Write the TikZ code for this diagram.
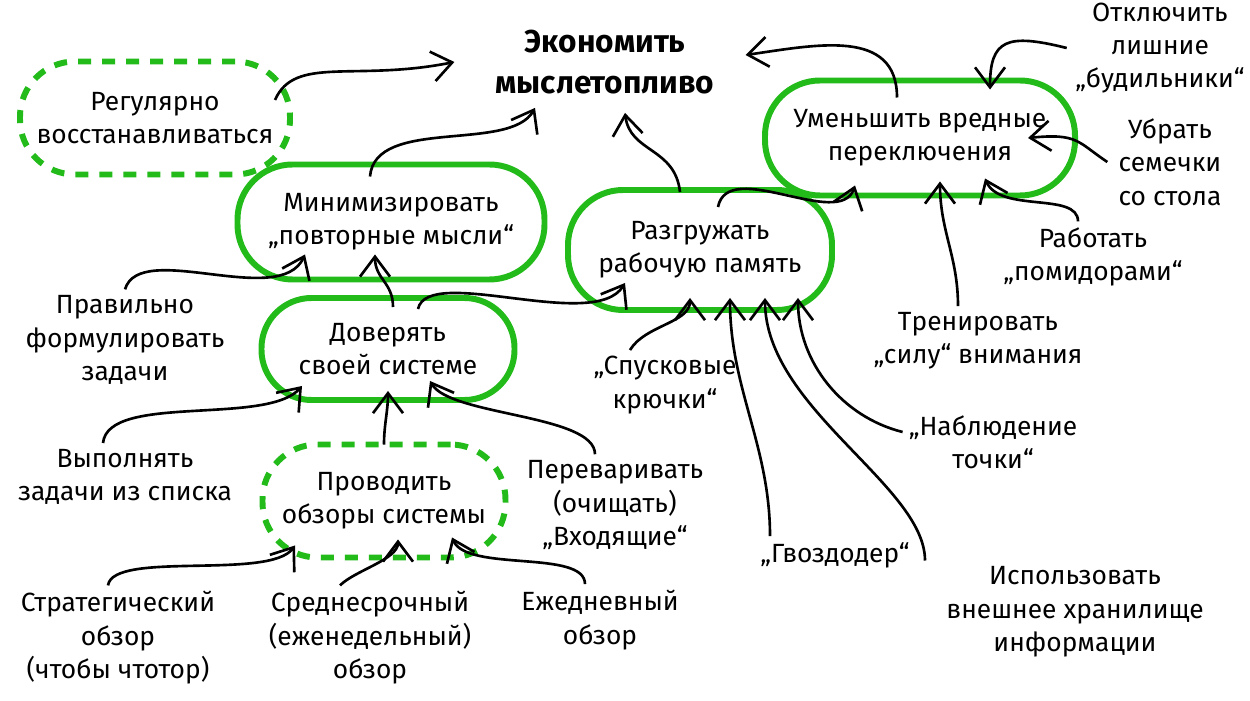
\documentclass[tikz,border=0pt]{standalone}
\usepackage{fontspec}
\setmainfont{Fira Sans}
\usetikzlibrary{shapes}
\usetikzlibrary{arrows.meta}
\definecolor{mygreen}{RGB}{34,187,26}
\tikzset{
    goal/.style = {align=center,font=\fontsize{18}{23}\selectfont\bfseries},
    mynode/.style = {rectangle, rounded corners=1.1cm, draw=mygreen, line width=3.4pt, align=center, font=\fontsize{15}{19}\selectfont},
    mynoded/.style = {mynode, dash pattern=on 0.26cm off 0.22cm}, % dashed
    leaf/.style = {align=center, font=\fontsize{15}{19}\selectfont},
    edgen/.style = {-{Straight Barb[length=4mm,width=6mm]}, line width=1.5pt, black},
}

\begin{document}
\begin{tikzpicture}
\useasboundingbox (0,0) rectangle (25,14);
\node[goal] at (12.1, 12.76) (goal) {Экономить\\мыслетопливо};
\node[mynoded, minimum width=5.4cm, minimum height=2.26cm] at (3.1, 11.64) (regular) {Регулярно\\восстанавливаться};
\node[mynode, minimum width=6.14cm, minimum height=2.3cm] at (7.82, 9.56) (minimize) {Минимизировать\\„повторные мысли“};
\node[mynode, minimum width=5.28cm, minimum height=2.4cm] at (14.0, 9.0) (razg) {Разгружать\\рабочую память};
\node[mynode, minimum width=6.2cm, minimum height=2.3cm] at (18.4, 11.24) (umen) {Уменьшить вредные\\переключения};
\node[mynode, rounded corners=1.0cm, minimum width=5.06cm, minimum height=2.04cm] at (7.76, 7.02) (dover) {Доверять\\своей системе};
\node[mynoded, minimum width=4.86cm, minimum height=2.26cm] at (7.68, 3.98) (provod) {Проводить\\обзоры системы};
%
\node[leaf] at (2.5, 7.2) (pravilno) {Правильно\\формулировать\\задачи};
\node[leaf] at (2.5, 4.46) (vypoln) {Выполнять\\задачи из списка};
\node[leaf] at (12.3, 3.9) (perevar) {Переваривать\\(очищать)\\„Входящие“};
\node[leaf] at (2.36, 1.24) (strateg) {Стратегический\\обзор\\(чтобы чтотор)};
\node[leaf] at (7.4, 1.24) (sredne) {Среднесрочный\\(еженедельный)\\обзор};
\node[leaf] at (12.0, 1.6) (ezhedn) {Ежедневный\\обзор};
\node[leaf] at (13.3, 6.3) (spusk) {„Спусковые\\крючки“};
\node[leaf] at (16.7, 2.9) (gvozd) {„Гвоздодер“};
\node[leaf] at (21.5, 1.76) (ispolz) {Использовать\\внешнее хранилище\\информации};
\node[leaf] at (19.86, 5.16) (nabl) {„Наблюдение\\точки“};
\node[leaf] at (19.56, 7.18) (trenir) {Тренировать\\„силу“ внимания};
\node[leaf] at (21.86, 8.86) (rabotat) {Работать\\„помидорами“};
\node[leaf] at (23.4, 10.76) (ubrat) {Убрать\\семечки\\со стола};
\node[leaf] at (23.2, 13.04) (otkl) {Отключить\\лишние\\„будильники“};
%
\draw[edgen] ([xshift=-0.36cm,yshift=0.36cm]regular.east) .. controls +(0.4,0.9) and +(-2.0,-0.4) .. ([xshift=-0.7cm]goal.west);
\draw[edgen] ([xshift=-0.42cm,yshift=-0.3cm]minimize.north) .. controls +(0.1,1.2) and +(-0.5,-0.9) .. ([xshift=-1.4cm,yshift=-0.16cm]goal.south);
\draw[edgen] ([xshift=-0.4cm,yshift=-0.1cm]razg.north) .. controls +(-0.1,0.9) and +(0.1,-0.8) .. ([xshift=0.4cm,yshift=-0.26cm]goal.south);
\draw[edgen] ([xshift=-0.46cm,yshift=-0.4cm]umen.north) .. controls +(0,1.4) and +(1.4,0.2) .. ([xshift=0.5cm,yshift=0.14cm]goal.east);
\draw[edgen] ([xshift=0.36cm,yshift=-0.4cm]razg.north) .. controls +(0.2,1.0) and +(-0.3,-0.9) .. ([xshift=-1.3cm,yshift=0.26cm]umen.south);
%
\draw[edgen] ([xshift=-0.05cm]otkl.west) .. controls +(-1.2,0.3) and +(0,1.0) .. ([xshift=1.4cm,yshift=-0.24cm]umen.north);
\draw[edgen] ([xshift=-0.1cm]ubrat.west) .. controls +(-0.6,0.4) and +(1.0,0.1) .. ([xshift=-1.0cm]umen.east);
\draw[edgen] ([xshift=-0.3cm]rabotat.north) .. controls +(0,0.6) and +(0.3,-0.7) .. ([xshift=1.3cm,yshift=0.4cm]umen.south);
\draw[edgen] ([xshift=-0.4cm]trenir.north) .. controls +(0,1.0) and +(0,-1.0) .. ([xshift=0.4cm,yshift=0.34cm]umen.south);
%
\draw[edgen] (pravilno.north) .. controls +(0.3,1.0) and +(-0.5,-1.1) .. ([xshift=-1.72cm,yshift=0.56cm]minimize.south);
\draw[edgen] ([xshift=0.1cm,yshift=-0.24cm]dover.north) .. controls +(0,0.5) and +(0,-0.5) .. ([xshift=-0.32cm,yshift=0.56cm]minimize.south);
\draw[edgen] ([xshift=0.6cm,yshift=-0.28cm]dover.north) .. controls +(0.2,0.9) and +(-0.6,-1.0) .. ([xshift=-1.5cm,yshift=0.6cm]razg.south);
\draw[edgen] ([xshift=-0.44cm]vypoln.north) .. controls +(0.1,1.0) and +(-0.7,-0.8) .. ([xshift=-1.72cm,yshift=0.34cm]dover.south);
\draw[edgen] ([yshift=-0.06cm]provod.north) .. controls +(0,0.4) and +(0,-0.4) .. ([yshift=0.24cm]dover.south);
\draw[edgen] ([xshift=-0.4cm]perevar.north) .. controls +(0,0.8) and +(0.4,-0.7) .. ([xshift=0.84cm,yshift=0.44cm]dover.south);
%
\draw[edgen] ([xshift=-0.2cm]strateg.north) .. controls +(0.1,0.7) and +(-0.5,-0.7) .. ([xshift=-1.78cm,yshift=0.3cm]provod.south);
\draw[edgen] ([xshift=-0.6cm]sredne.north) .. controls +(0.3,0.3) and +(0,-0.4) .. ([xshift=0.28cm,yshift=0.42cm]provod.south);
\draw[edgen] ([xshift=-0.3cm]ezhedn.north) .. controls +(0,0.7) and +(0.3,-0.7) .. ([xshift=1.36cm,yshift=0.46cm]provod.south);
%
\draw[edgen] ([xshift=-0.7cm]spusk.north) .. controls +(0.3,0.5) and +(0,-0.5) .. ([xshift=-0.2cm,yshift=0.3cm]razg.south);
\draw[edgen] ([xshift=-1.3cm]gvozd.north) .. controls +(0,1.8) and +(0,-1.8) .. ([xshift=0.6cm,yshift=0.3cm]razg.south);
\draw[edgen] ([xshift=-3.0cm]ispolz.north) .. controls +(0,1.5) and +(0,-2.2) .. ([xshift=1.3cm,yshift=0.3cm]razg.south);
\draw[edgen] ([yshift=0.2cm]nabl.west) .. controls +(-1.2,0.3) and +(0,-1.3) .. ([xshift=1.96cm,yshift=0.3cm]razg.south);
\end{tikzpicture}
\end{document}
